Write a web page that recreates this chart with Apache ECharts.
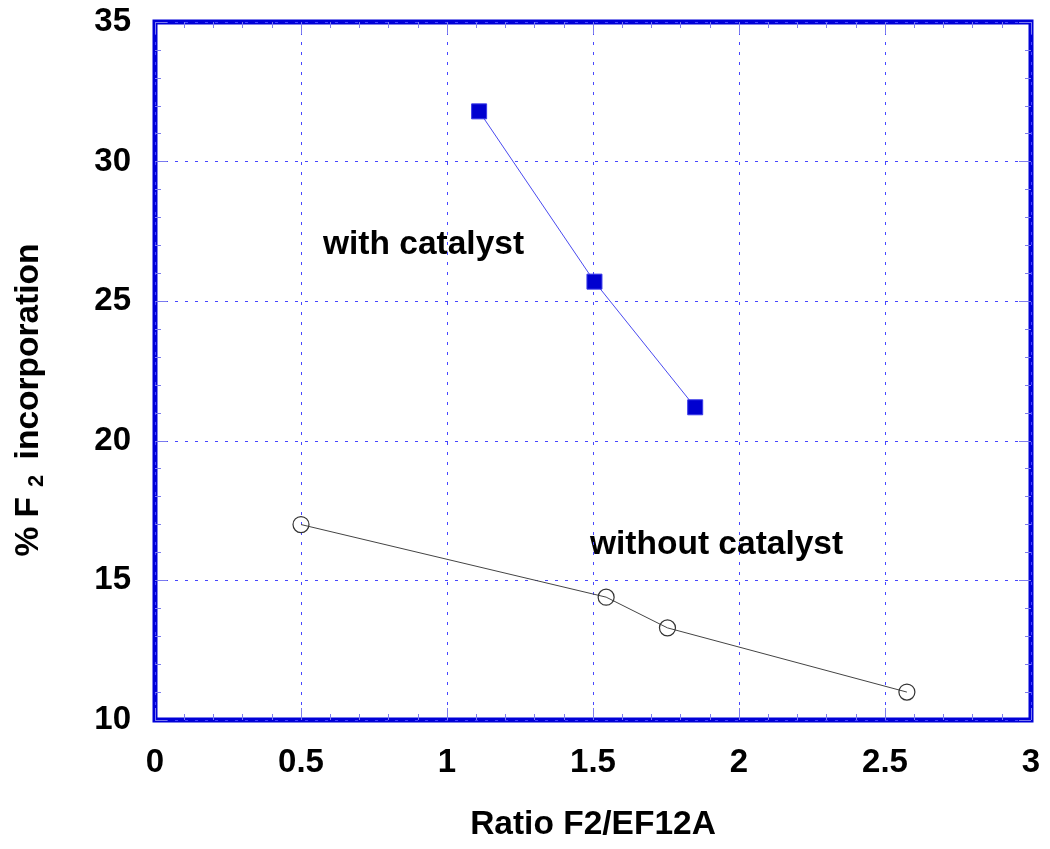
<!DOCTYPE html>
<html>
<head>
<meta charset="utf-8">
<script src="https://cdn.jsdelivr.net/npm/echarts@6/dist/echarts.min.js"></script>
<style>html,body{margin:0;padding:0;background:#fff}#c{width:1050px;height:849px}</style>
</head>
<body>
<div id="c"></div>
<script>
var withX = [1.11, 1.505, 1.85];
var withY = [31.8, 25.7, 21.2];
var withoutX = [0.5, 1.545, 1.755, 2.575];
var withoutY = [17.0, 14.4, 13.3, 11.0];
var xTitle = 'Ratio F2/EF12A';
var yTitleParts = ['% F', '2', ' incorporation'];
var labelWith = 'with catalyst';
var labelWithout = 'without catalyst';

var FONT = '"Liberation Sans", Arial, sans-serif';
var tickColor = '#7b7bee';
var gridColor = '#4646ff';

function pairs(xs, ys) { return xs.map(function (x, i) { return [x, ys[i]]; }); }

function xMain() {
  return {
    type: 'value', position: 'bottom', min: 0, max: 3, interval: 0.5,
    axisLine: { show: false, onZero: false }, axisTick: { show: false },
    splitLine: { show: true, lineStyle: { color: gridColor, type: [3, 7], width: 1 } },
    axisLabel: { margin: 26, fontSize: 33, fontWeight: 'bold', color: '#000', fontFamily: FONT },
    name: xTitle, nameLocation: 'middle', nameGap: 88,
    nameTextStyle: { fontSize: 33.5, fontWeight: 'bold', color: '#000', fontFamily: FONT }
  };
}
function yMain() {
  return {
    type: 'value', position: 'left', min: 10, max: 35, interval: 5,
    axisLine: { show: false, onZero: false }, axisTick: { show: false },
    splitLine: { show: true, lineStyle: { color: gridColor, type: [3, 7], width: 1 } },
    axisLabel: { margin: 24, fontSize: 33, fontWeight: 'bold', color: '#000', fontFamily: FONT }
  };
}
function xTicks(pos, step, len) {
  return {
    type: 'value', position: pos, min: 0, max: 3, interval: step,
    axisLine: { show: false, onZero: false }, axisLabel: { show: false }, splitLine: { show: false },
    axisTick: { show: true, inside: true, length: len, lineStyle: { color: tickColor, width: 1 } }
  };
}
function yTicks(pos, step, len) {
  return {
    type: 'value', position: pos, min: 10, max: 35, interval: step,
    axisLine: { show: false, onZero: false }, axisLabel: { show: false }, splitLine: { show: false },
    axisTick: { show: true, inside: true, length: len, lineStyle: { color: tickColor, width: 1 } }
  };
}

var chart = echarts.init(document.getElementById('c'), null, { renderer: 'canvas' });
chart.setOption({
  animation: false,
  backgroundColor: '#fff',
  grid: { left: 155, right: 19, top: 22, bottom: 129, show: true, borderColor: '#0000d8', borderWidth: 5, backgroundColor: 'transparent' },
  xAxis: [
    xMain(),
    xTicks('bottom', 0.5, 12), xTicks('top', 0.5, 12),
    xTicks('bottom', 0.1, 6), xTicks('top', 0.1, 6)
  ],
  yAxis: [
    yMain(),
    yTicks('left', 5, 12), yTicks('right', 5, 12),
    yTicks('left', 1, 6), yTicks('right', 1, 6)
  ],
  series: [
    {
      type: 'line', name: labelWith, data: pairs(withX, withY), xAxisIndex: 0, yAxisIndex: 0,
      symbol: 'rect', symbolSize: 15,
      lineStyle: { color: '#4a4af0', width: 1 },
      itemStyle: { color: '#0000d0', borderColor: '#3a3ae8', borderWidth: 1 }, z: 5
    },
    {
      type: 'line', name: labelWithout, data: pairs(withoutX, withoutY), xAxisIndex: 0, yAxisIndex: 0,
      symbol: 'circle', symbolSize: 16,
      lineStyle: { color: '#444', width: 1 },
      itemStyle: { color: 'rgba(255,255,255,0)', borderColor: '#333', borderWidth: 1.2 }, z: 5
    }
  ],
  graphic: [
    { type: 'text', x: 323, y: 245, style: { text: labelWith, font: 'bold 33.5px ' + FONT, fill: '#000', verticalAlign: 'middle', align: 'left' } },
    { type: 'text', x: 590, y: 545, style: { text: labelWithout, font: 'bold 33.5px ' + FONT, fill: '#000', verticalAlign: 'middle', align: 'left' } },
    {
      type: 'text', x: 29, y: 400, rotation: Math.PI / 2,
      style: {
        text: '{a|' + yTitleParts[0] + '}{s|' + yTitleParts[1] + '}{a|' + yTitleParts[2] + '}',
        align: 'center', verticalAlign: 'middle',
        rich: {
          a: { fontSize: 33.5, fontWeight: 'bold', fill: '#000', fontFamily: FONT, lineHeight: 40 },
          s: { fontSize: 22, fontWeight: 'bold', fill: '#000', fontFamily: FONT, padding: [16, 6, 0, 10], lineHeight: 40 }
        }
      }
    }
  ]
});
</script>
</body>
</html>
